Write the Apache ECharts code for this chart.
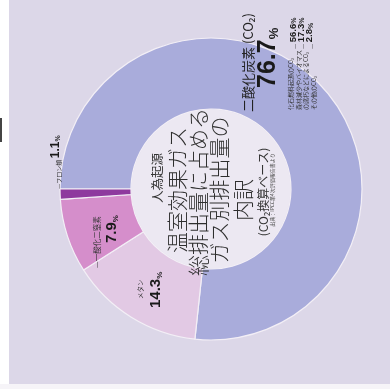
<!DOCTYPE html>
<html><head><meta charset="utf-8">
<script src="https://cdn.jsdelivr.net/npm/echarts@6/dist/echarts.min.js"></script>
<style>html,body{margin:0;padding:0;background:#fff}#c{width:390px;height:389px}</style>
</head><body><div id="c"></div>
<script>
// ---- data ----
const gasNames = ['二酸化炭素 (CO₂)', 'メタン', '一酸化二窒素', 'フロン類'];
const gasShares = [76.7, 14.3, 7.9, 1.1];
const co2Lines = ['化石燃料起源のCO₂', '森林減少やバイオマス', 'の腐朽などによるCO₂', 'その他のCO₂'];
const co2Values = [56.6, 17.3, 2.8];
const titleLines = ['温室効果ガス', '総排出量に占める', 'ガス別排出量の', '内訳'];
const titleKicker = '人為起源';
const titleSub = '(CO₂換算ベース)';
const sourceNote = '出典：IPCC第4次評価報告書より';

// ---- styles ----
const JP = "'Noto Sans CJK JP', 'Noto Sans', sans-serif";
const NUM = "'Liberation Sans Narrow', 'Liberation Sans', Arial, sans-serif";
const colors = ['#a9acdb', '#e2c9e4', '#d58ecb', '#8e3a9e'];
const CX = 211, CY = 189, R0 = 80, R1 = 151;

function vt(x, y, style) {
  return { type: 'text', x: x, y: y, rotation: Math.PI / 2, z: 100,
    style: Object.assign({ fill: '#222', align: 'left', verticalAlign: 'middle', fontFamily: JP }, style) };
}
function pctRich(v, nSize, pSize, prefix, prefixSize) {
  const rich = {
    d: { fontFamily: JP, fontSize: prefixSize || 6, fill: '#333', verticalAlign: 'bottom' },
    n: { fontFamily: NUM, fontWeight: 'bold', fontSize: nSize, fill: '#1a1a1a', verticalAlign: 'bottom' },
    p: { fontFamily: NUM, fontWeight: 'bold', fontSize: pSize, fill: '#1a1a1a', verticalAlign: 'bottom' }
  };
  const text = (prefix ? '{d|' + prefix + '}' : '') + '{n|' + v.toFixed(1) + '}{p|%}';
  return { text: text, rich: rich };
}

const graphics = [
  { type: 'rect', shape: { x: 0, y: 0, width: 9, height: 389 }, style: { fill: '#ffffff' }, z: 50 },
  { type: 'rect', shape: { x: 0, y: 384, width: 390, height: 5 }, style: { fill: '#f6f4f8' }, z: 50 },
  { type: 'rect', shape: { x: 0, y: 118, width: 2, height: 24 }, style: { fill: '#444' }, z: 51 },
  { type: 'circle', shape: { cx: CX, cy: CY, r: R0 - 0.5 }, style: { fill: '#ece8f2' }, z: 1 },
  // center title
  vt(157, 178, { text: titleKicker, fontSize: 12.5, align: 'center', fill: '#333' }),
  vt(177, 190, { text: titleLines[0], fontSize: 21, align: 'center', fill: '#2e2e2e', fontWeight: 300 }),
  vt(198, 192, { text: titleLines[1], fontSize: 21, align: 'center', fill: '#2e2e2e', fontWeight: 300 }),
  vt(219, 190, { text: titleLines[2], fontSize: 21, align: 'center', fill: '#2e2e2e', fontWeight: 300 }),
  vt(243, 200, { text: titleLines[3], fontSize: 21, align: 'center', fill: '#2e2e2e', fontWeight: 300 }),
  vt(263, 192, { text: titleSub, fontSize: 12, align: 'center', fill: '#333' }),
  vt(272, 190, { text: sourceNote, fontSize: 5, align: 'center', fill: '#555' }),
  // CO2 label
  vt(248, 112, { text: gasNames[0], fontSize: 13, fill: '#222' }),
  vt(268, 88, pctRich(gasShares[0], 25, 13)),
  vt(291, 110, { text: co2Lines[0], fontSize: 6, fill: '#333' }),
  vt(298.5, 110, { text: co2Lines[1], fontSize: 6, fill: '#333' }),
  vt(306, 110, { text: co2Lines[2], fontSize: 6, fill: '#333' }),
  vt(313.5, 110, { text: co2Lines[3], fontSize: 6, fill: '#333' }),
  vt(293, 49, pctRich(co2Values[0], 9.5, 7, '— ', 6)),
  vt(301, 49, pctRich(co2Values[1], 9.5, 7, '— ', 6)),
  vt(309.5, 49, pctRich(co2Values[2], 9.5, 7, '— ', 6)),
  // methane
  vt(141, 299, { text: gasNames[1], fontSize: 6.5, fill: '#333' }),
  vt(156, 308, pctRich(gasShares[1], 15, 8)),
  // N2O
  vt(97, 268, { text: '—' + gasNames[2], fontSize: 7.5, fill: '#333' }),
  vt(112, 243, pctRich(gasShares[2], 15, 8)),
  // fluorocarbons
  vt(56, 189, pctRich(gasShares[3], 12, 7, '—' + gasNames[3] + ' ', 6))
];

const chart = echarts.init(document.getElementById('c'), null, { renderer: 'canvas' });
chart.setOption({
  backgroundColor: '#dcd7e8',
  animation: false,
  graphic: graphics,
  series: [{
    type: 'pie',
    center: [CX, CY],
    radius: [R0, R1],
    startAngle: 180,
    clockwise: true,
    silent: true,
    label: { show: false },
    labelLine: { show: false },
    itemStyle: { borderColor: '#f3eff6', borderWidth: 1.2 },
    data: gasNames.map((n, i) => ({ name: n, value: gasShares[i], itemStyle: { color: colors[i] } }))
  }]
});
</script></body></html>
